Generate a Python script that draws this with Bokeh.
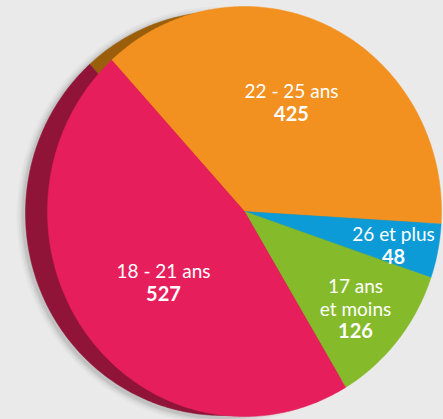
import numpy as np
from bokeh.plotting import figure
from bokeh.models import Range1d, ColumnDataSource
from bokeh.core.properties import value
from bokeh.embed import file_html
from bokeh.resources import INLINE

# ---- data (clockwise order starting at top-left) ----
categories = ["22 - 25 ans", "26 et plus", "17 ans et moins", "18 - 21 ans"]
values = [425, 48, 126, 527]
colors = ["#f29120", "#0c9bd7", "#85bb2b", "#e61e5b"]
shadow_colors = ["#9b5f0b", "#0a5f85", "#4f7419", "#8f1437"]
label_lines = [["22 - 25 ans"], ["26 et plus"], ["17 ans", "et moins"], ["18 - 21 ans"]]
value_labels = ["425", "48", "126", "527"]

# ---- layout constants (pixels; y measured downward from window top) ----
W, H = 443, 419
BG = "#ebeaeb"
START_DEG = 132.4
CX, CY, RX, RY = 244, 211, 197, 205          # main pie
SCX, SCY, SRX, SRY = 222, 213, 197, 202      # 3D side / shadow
LABEL_POS = [(291, 90), (393, 233), (355, 285), (163, 270)]
LINE_GAP = 22.5


def Y(ys):
    return H - np.asarray(ys, dtype=float)


def slice_patches(cx, cy, rx, ry):
    vals = np.asarray(values, dtype=float)
    frac = vals / vals.sum()
    ends = START_DEG - np.cumsum(frac) * 360.0
    starts = np.concatenate([[START_DEG], ends[:-1]])
    xs, ys = [], []
    for a0, a1 in zip(starts, ends):
        t = np.radians(np.linspace(a0, a1, 200))
        px = np.concatenate([[cx], cx + rx * np.cos(t), [cx]])
        py_down = np.concatenate([[cy], cy - ry * np.sin(t), [cy]])
        xs.append(px.tolist())
        ys.append(Y(py_down).tolist())
    return xs, ys


p = figure(width=W, height=H,
           x_range=Range1d(0, W), y_range=Range1d(0, H),
           x_axis_type=None, y_axis_type=None,
           output_backend="svg", toolbar_location=None, min_border=0,
           background_fill_color=BG, border_fill_color=BG,
           outline_line_color=None)
p.grid.visible = False

# soft drop shadow around the side
t = np.radians(np.linspace(0, 360, 400))
for k, a in [(7, 0.025), (5, 0.035), (3, 0.05), (1.5, 0.06)]:
    p.patch((SCX - 2 + (SRX + k) * np.cos(t)).tolist(),
            Y(SCY + 2 - (SRY + k) * np.sin(t)).tolist(),
            fill_color="black", fill_alpha=a, line_color=None)

# side / shadow pie
sxs, sys_ = slice_patches(SCX, SCY, SRX, SRY)
p.patches(xs="xs", ys="ys", source=ColumnDataSource(dict(xs=sxs, ys=sys_, c=shadow_colors)),
          fill_color="c", line_color="c", line_width=0.5)

# main pie
mxs, mys = slice_patches(CX, CY, RX, RY)
p.patches(xs="xs", ys="ys", source=ColumnDataSource(dict(xs=mxs, ys=mys, c=colors)),
          fill_color="c", line_color="c", line_width=0.5)

# labels
nx, ny, nt, bx, by, bt = [], [], [], [], [], []
for (lx, ly), lines, v in zip(LABEL_POS, label_lines, value_labels):
    for i, line in enumerate(lines):
        nx.append(lx); ny.append(ly + i * LINE_GAP); nt.append(line)
    bx.append(lx); by.append(ly + len(lines) * LINE_GAP); bt.append(v)

p.text(x=nx, y=Y(ny).tolist(), text=nt, text_font=value("Lato"),
       text_font_size="19px", text_color="white",
       text_align="center", text_baseline="middle")
p.text(x=bx, y=Y(by).tolist(), text=bt, text_font=value("Lato"),
       text_font_size="20px", text_font_style="bold", text_color="white",
       text_align="center", text_baseline="middle")

html = file_html(p, INLINE)
html = html.replace("</head>", "<style>html,body{background:%s;}</style></head>" % BG, 1)
open("out.html", "w").write(html)
